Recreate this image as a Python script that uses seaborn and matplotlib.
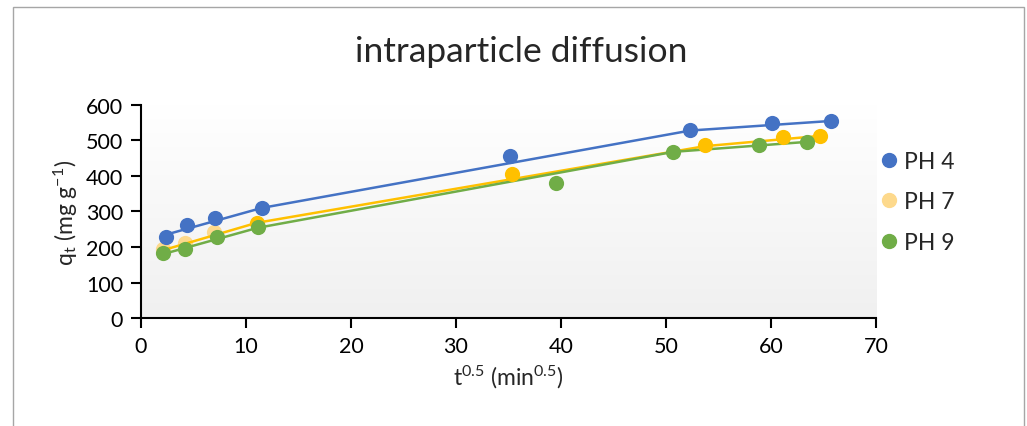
import numpy as np
import pandas as pd
import matplotlib
matplotlib.use("Agg")
import matplotlib.pyplot as plt
from matplotlib.lines import Line2D
from matplotlib.colors import LinearSegmentedColormap
import seaborn as sns

# ---------------- data ----------------
series_names = ["PH 4", "PH 7", "PH 9"]

ph4_x = [2.4, 4.35, 7.0, 11.5, 35.1, 52.3, 60.1, 65.7]
ph4_y = [229, 262, 281, 309, 455, 530, 548, 554]
ph7_x = [2.1, 4.2, 6.95, 11.0, 35.3, 53.7, 61.1, 64.7]
ph7_y = [194, 210, 241, 268, 405, 486, 509, 514]
ph9_x = [2.1, 4.2, 7.2, 11.1, 39.5, 50.7, 58.9, 63.4]
ph9_y = [182, 193, 229, 255, 380, 467, 488, 495]

# piecewise linear fits (multilinearity of the intraparticle diffusion model)
fit4_x = [2.4, 11.5, 52.3, 65.7]
fit4_y = [235, 310, 528, 555]
fit7_x = [2.1, 11.0, 53.7, 64.7]
fit7_y = [191, 268, 484, 513]
fit9_x = [2.1, 11.1, 50.7, 63.4]
fit9_y = [180, 254, 468, 496]

x_ticks = [0, 10, 20, 30, 40, 50, 60, 70]
y_ticks = [0, 100, 200, 300, 400, 500, 600]

# ---------------- style ----------------
sns.set_theme(style="white")
plt.rcParams["font.family"] = ["Lato", "DejaVu Sans"]
plt.rcParams["mathtext.fontset"] = "custom"
plt.rcParams["mathtext.rm"] = "Lato"
plt.rcParams["mathtext.it"] = "Lato:italic"

c4 = "#4472C4"
c7 = "#FFC000"
c7_light = "#FDD98C"
c9 = "#70AD47"

fig = plt.figure(figsize=(10.27, 4.27), dpi=100)
ax = fig.add_axes([0.1373, 0.2529, 0.853 - 0.1373, 0.7518 - 0.2529])

# gradient background of plot area
grad = np.linspace(0.0, 1.0, 256).reshape(-1, 1)
cmap = LinearSegmentedColormap.from_list("bg", ["#F0F0F0", "#FFFFFF"])
ax.imshow(grad, extent=[0, 70, 0, 600], aspect="auto", cmap=cmap,
          vmin=0, vmax=1, origin="lower", zorder=0)

fits = pd.DataFrame({
    "x": fit4_x + fit7_x + fit9_x,
    "y": fit4_y + fit7_y + fit9_y,
    "s": ["PH 4"] * 4 + ["PH 7"] * 4 + ["PH 9"] * 4,
})
pts = pd.DataFrame({
    "x": ph4_x + ph7_x + ph9_x,
    "y": ph4_y + ph7_y + ph9_y,
    "s": ["PH 4"] * 8 + ["PH 7"] * 8 + ["PH 9"] * 8,
})
pal = {"PH 4": c4, "PH 7": c7, "PH 9": c9}

for name in series_names:
    sub = fits[fits.s == name]
    sns.lineplot(data=sub, x="x", y="y", color=pal[name], lw=1.8,
                 sort=False, estimator=None, ax=ax, zorder=3, legend=False)

ms = 120
sub = pts[pts.s == "PH 4"]
sns.scatterplot(data=sub, x="x", y="y", color=c4, s=ms, linewidth=0, ax=ax, zorder=4, legend=False)
sub = pts[pts.s == "PH 7"]
sns.scatterplot(data=sub.iloc[:3], x="x", y="y", color=c7_light, s=ms, linewidth=0, ax=ax, zorder=2, legend=False)
sns.scatterplot(data=sub.iloc[3:], x="x", y="y", color=c7, s=ms, linewidth=0, ax=ax, zorder=4, legend=False)
sub = pts[pts.s == "PH 9"]
sns.scatterplot(data=sub, x="x", y="y", color=c9, s=ms, linewidth=0, ax=ax, zorder=4, legend=False)

ax.set_xlim(0, 70)
ax.set_ylim(0, 600)
ax.set_xticks(x_ticks)
ax.set_yticks(y_ticks)
ax.tick_params(axis="both", labelsize=15.5, colors="black", length=7, width=1.5,
               direction="out", bottom=True, left=True, pad=6)
for s in ["top", "right"]:
    ax.spines[s].set_visible(False)
for s in ["left", "bottom"]:
    ax.spines[s].set_color("black")
    ax.spines[s].set_linewidth(1.5)
ax.set_xlabel(r"t$^{\mathregular{0.5}}$ (min$^{\mathregular{0.5}}$)", fontsize=16.5, labelpad=5)
ax.set_ylabel(r"q$_{\mathregular{t}}$ (mg g$^{\mathregular{-1}}$)", fontsize=16.5, labelpad=4)

fig.suptitle("intraparticle diffusion", fontsize=25.5, x=0.507, y=0.915)

handles = [
    Line2D([], [], marker="o", ls="", color=c4, markersize=10),
    Line2D([], [], marker="o", ls="", color=c7_light, markersize=10),
    Line2D([], [], marker="o", ls="", color=c9, markersize=10),
]
fig.legend(handles, series_names, loc="center left", bbox_to_anchor=(0.832, 0.525),
           frameon=False, fontsize=16.5, handletextpad=0.05, labelspacing=0.85,
           handlelength=1.2)

# outer chart border
fig.add_artist(plt.Rectangle((13 / 1027, -0.05), (1024 - 13) / 1027, 1 - 8 / 427 + 0.05,
                             transform=fig.transFigure, fill=False,
                             edgecolor="#A6A6A6", lw=1.0))

fig.savefig("out.png", dpi=100)
